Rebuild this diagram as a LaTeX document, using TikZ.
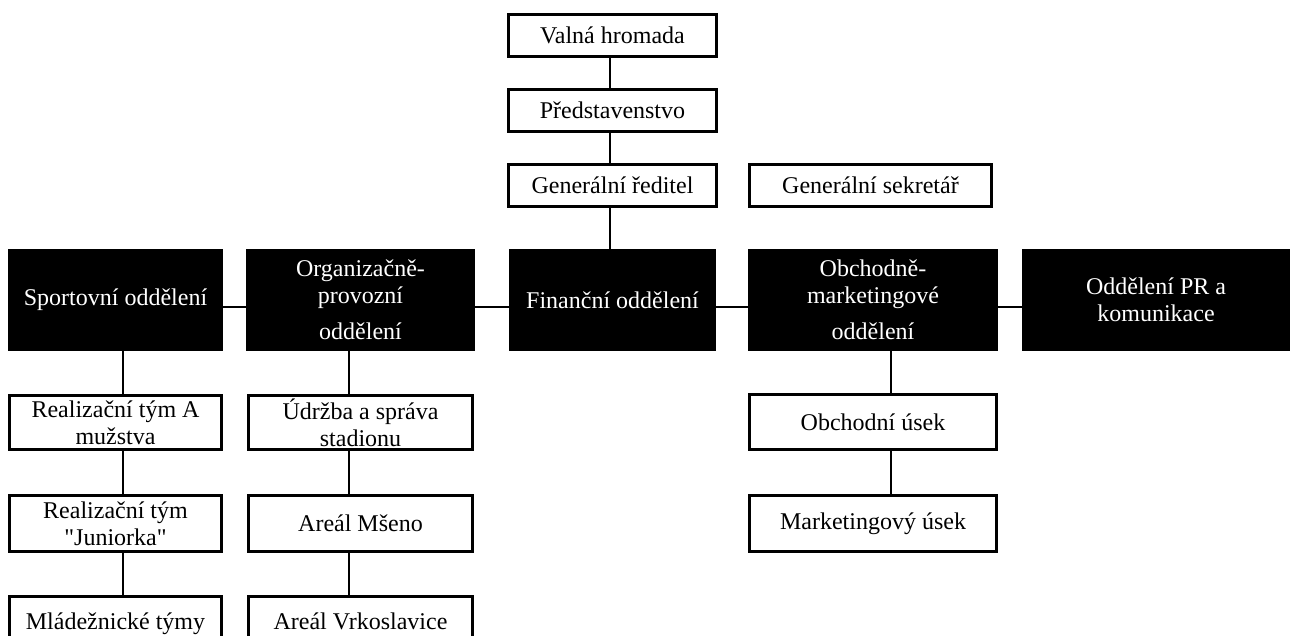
\documentclass[tikz,border=0pt]{standalone}
\usepackage{fontspec}
\setmainfont{Liberation Serif}[Ligatures=TeXOff]
\begin{document}
\begin{tikzpicture}[x=1pt,y=-1pt,
  txt/.style={font=\fontsize{24}{27}\selectfont, align=center, inner sep=0pt},
  wbox/.style={txt, draw=black, line width=3pt, fill=white},
  bbox/.style={txt, fill=black, text=white},
  conn/.style={draw=black, line width=2pt}]
\useasboundingbox (0,0) rectangle (1296,635);
\clip (0,0) rectangle (1296,635);

% column and level references for the connectors
\coordinate (xtop) at (610,0);
\coordinate (xspo) at (123,0);
\coordinate (xorg) at (349,0);
\coordinate (xobm) at (891,0);
\coordinate (ymid) at (0,307);

% top of the hierarchy
\node[wbox, minimum width=208pt, minimum height=42pt] (vh) at (612.5,35.5) {Valná hromada};
\node[wbox, minimum width=208pt, minimum height=42pt] (pr) at (612.5,110.5) {Představenstvo};
\node[wbox, minimum width=208pt, minimum height=42pt] (gr) at (612.5,185.5) {Generální ředitel};
\node[wbox, minimum width=242pt, minimum height=42pt] (gs) at (870.5,185.5) {Generální sekretář};

% departments
\node[bbox, minimum width=215pt, minimum height=102pt] (spo) at (115.5,300) {\raisebox{-5pt}{Sportovní oddělení}};
\node[bbox, minimum width=229pt, minimum height=102pt] (org) at (360.5,300) {Organizačně-\\provozní\\[9pt]oddělení};
\node[bbox, minimum width=207pt, minimum height=102pt] (fin) at (612.5,300) {\raisebox{-3pt}{Finanční oddělení}};
\node[bbox, minimum width=250pt, minimum height=102pt] (obm) at (873,300) {Obchodně-\\marketingové\\[9pt]oddělení};
\node[bbox, minimum width=268pt, minimum height=102pt] (prk) at (1156,300) {Oddělení PR a\\komunikace};

% sports department units
\node[wbox, minimum width=212pt, minimum height=54pt] (ra) at (115.5,422.5) {Realizační tým A\\mužstva};
\node[wbox, minimum width=212pt, minimum height=56pt] (rj) at (115.5,523.5) {Realizační tým\\"Juniorka"};
\node[wbox, minimum width=212pt, minimum height=54pt] (mt) at (115.5,623.5) {\raisebox{4pt}{Mládežnické týmy}};

% operations department units
\node[wbox, minimum width=224pt, minimum height=54pt] (ud) at (360.5,422.5) {Údržba a správa\\stadionu};
\node[wbox, minimum width=224pt, minimum height=56pt] (am) at (360.5,523.5) {Areál Mšeno};
\node[wbox, minimum width=224pt, minimum height=54pt] (av) at (360.5,623.5) {\raisebox{4pt}{Areál Vrkoslavice}};

% commercial department units
\node[wbox, minimum width=247pt, minimum height=55pt] (ou) at (873,422) {Obchodní úsek};
\node[wbox, minimum width=247pt, minimum height=56pt] (mk) at (873,523.5) {Marketingový úsek};

% vertical connectors
\draw[conn] (vh.south -| xtop) -- (pr.north -| xtop);
\draw[conn] (pr.south -| xtop) -- (gr.north -| xtop);
\draw[conn] (gr.south -| xtop) -- (fin.north -| xtop);
\draw[conn] (spo.south -| xspo) -- (ra.north -| xspo);
\draw[conn] (ra.south -| xspo) -- (rj.north -| xspo);
\draw[conn] (rj.south -| xspo) -- (mt.north -| xspo);
\draw[conn] (org.south -| xorg) -- (ud.north -| xorg);
\draw[conn] (ud.south -| xorg) -- (am.north -| xorg);
\draw[conn] (am.south -| xorg) -- (av.north -| xorg);
\draw[conn] (obm.south -| xobm) -- (ou.north -| xobm);
\draw[conn] (ou.south -| xobm) -- (mk.north -| xobm);

% horizontal connectors between departments
\draw[conn] (spo.east |- ymid) -- (org.west |- ymid);
\draw[conn] (org.east |- ymid) -- (fin.west |- ymid);
\draw[conn] (fin.east |- ymid) -- (obm.west |- ymid);
\draw[conn] (obm.east |- ymid) -- (prk.west |- ymid);
\end{tikzpicture}
\end{document}
